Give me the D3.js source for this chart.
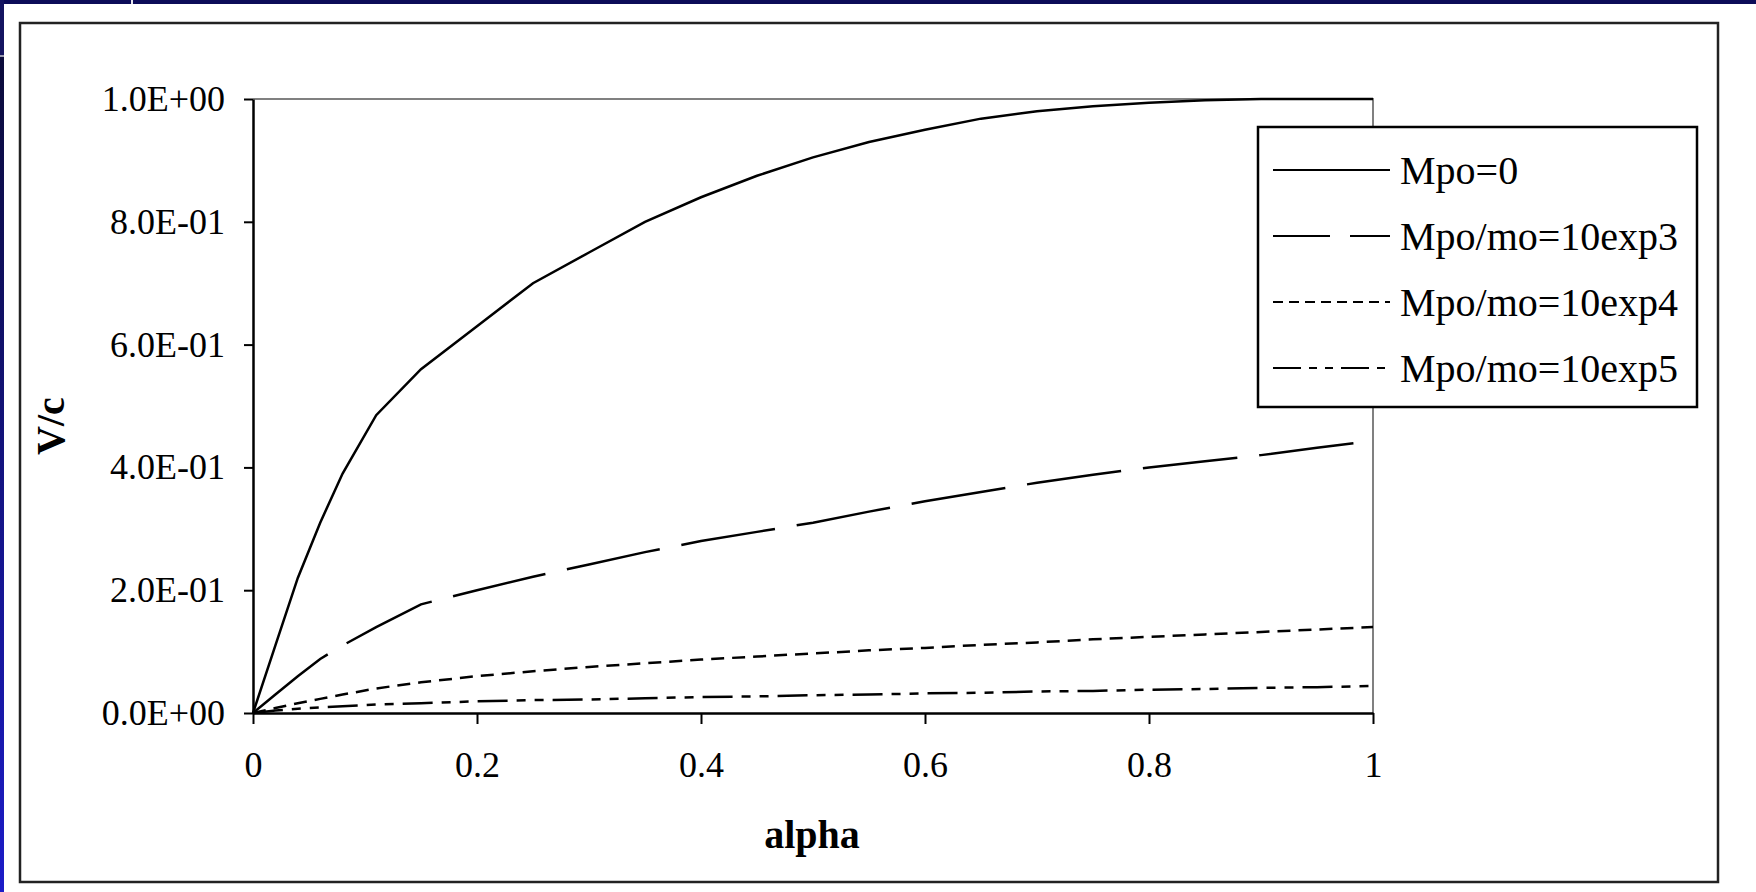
<!DOCTYPE html>
<html>
<head>
<meta charset="utf-8">
<script src="https://cdn.jsdelivr.net/npm/d3@7"></script>
<style>
  html, body { margin: 0; padding: 0; background: #ffffff; }
  svg { display: block; }
  text { font-family: "Liberation Serif", "Times New Roman", serif; fill: #000; }
</style>
</head>
<body>
<svg id="chart" width="1756" height="892"></svg>
<script>
// Sampled alpha values shared by all curves
const alpha = [0, 0.02, 0.04, 0.06, 0.08, 0.11, 0.15, 0.2, 0.25, 0.3, 0.35, 0.4, 0.45, 0.5,
               0.55, 0.6, 0.65, 0.7, 0.75, 0.8, 0.85, 0.9, 0.95, 1.0];

// V/c for each propellant mass ratio
const vMpo0 = [0, 0.11, 0.22, 0.31, 0.39, 0.485, 0.56, 0.63, 0.70, 0.75, 0.80, 0.84, 0.875, 0.905,
               0.93, 0.95, 0.968, 0.98, 0.988, 0.994, 0.998, 1.0, 1.0, 1.0];
const vExp3 = [0, 0.03, 0.06, 0.088, 0.11, 0.14, 0.177, 0.20, 0.222, 0.242, 0.262, 0.28, 0.295, 0.31,
               0.328, 0.345, 0.36, 0.375, 0.388, 0.40, 0.41, 0.42, 0.432, 0.443];
const vExp4 = [0, 0.008, 0.016, 0.023, 0.03, 0.04, 0.05, 0.06, 0.068, 0.075, 0.081, 0.087, 0.092, 0.097,
               0.102, 0.106, 0.111, 0.115, 0.12, 0.124, 0.128, 0.132, 0.136, 0.14];
const vExp5 = [0, 0.004, 0.007, 0.009, 0.011, 0.014, 0.016, 0.019, 0.021, 0.022, 0.024, 0.026, 0.027, 0.029,
               0.03, 0.032, 0.033, 0.035, 0.036, 0.038, 0.039, 0.041, 0.042, 0.044];

const seriesNames = ["Mpo=0", "Mpo/mo=10exp3", "Mpo/mo=10exp4", "Mpo/mo=10exp5"];
const seriesValues = [vMpo0, vExp3, vExp4, vExp5];

const xTicks = [0, 0.2, 0.4, 0.6, 0.8, 1];
const xTickLabels = ["0", "0.2", "0.4", "0.6", "0.8", "1"];
const yTicks = [0, 0.2, 0.4, 0.6, 0.8, 1.0];
const yTickLabels = ["0.0E+00", "2.0E-01", "4.0E-01", "6.0E-01", "8.0E-01", "1.0E+00"];

const xTitle = "alpha";
const yTitle = "V/c";

// Line styles per series: plot dash pattern and legend dash pattern
const dashPlot = [null, "95,22", "13,8", "30,9,9,9,9,9"];
const dashLegend = [null, "57,20", "10,6", "28,8,8,8,8,8"];

const svg = d3.select("#chart");
const W = 1756, H = 892;

// Slide background strips
svg.append("rect").attr("x", 0).attr("y", 0).attr("width", W).attr("height", H).attr("fill", "#ffffff");
svg.append("rect").attr("x", 0).attr("y", 0).attr("width", W).attr("height", 4).attr("fill", "#0c0c58");
const grad = svg.append("defs").append("linearGradient")
  .attr("id", "edge").attr("x1", 0).attr("y1", 0).attr("x2", 0).attr("y2", 1);
grad.append("stop").attr("offset", "0%").attr("stop-color", "#0a0a30");
grad.append("stop").attr("offset", "100%").attr("stop-color", "#1c1cc8");
svg.append("rect").attr("x", 0).attr("y", 0).attr("width", 4).attr("height", H).attr("fill", "url(#edge)");
svg.append("rect").attr("x", 0).attr("y", 0).attr("width", 4).attr("height", 55).attr("fill", "#141460");
svg.append("rect").attr("x", 0).attr("y", 55).attr("width", 4).attr("height", 2).attr("fill", "#9a9ab0");
svg.append("rect").attr("x", 131).attr("y", 0).attr("width", 2).attr("height", 4).attr("fill", "#e8e8f0");

// Chart frame
svg.append("rect").attr("x", 20).attr("y", 23).attr("width", 1698).attr("height", 859)
  .attr("fill", "#ffffff").attr("stroke", "#222").attr("stroke-width", 2.5);

const plot = { left: 253, right: 1373, top: 99, bottom: 713 };
const x = d3.scaleLinear().domain([0, 1]).range([plot.left, plot.right]);
const y = d3.scaleLinear().domain([0, 1]).range([plot.bottom, plot.top]);

// Top and right plot borders
svg.append("path")
  .attr("d", `M${plot.left},${plot.top}H${plot.right}V${plot.bottom}`)
  .attr("fill", "none").attr("stroke", "#808080").attr("stroke-width", 2);

// Axes
const xAxis = svg.append("g").attr("transform", `translate(0,${plot.bottom})`)
  .call(d3.axisBottom(x).tickValues(xTicks).tickFormat((d, i) => xTickLabels[i])
    .tickSize(11).tickSizeOuter(0).tickPadding(27));
const yAxis = svg.append("g").attr("transform", `translate(${plot.left},0)`)
  .call(d3.axisLeft(y).tickValues(yTicks).tickFormat((d, i) => yTickLabels[i])
    .tickSize(9).tickSizeOuter(0).tickPadding(19));
[xAxis, yAxis].forEach(g => {
  g.select(".domain").attr("stroke", "#000").attr("stroke-width", 2.5);
  g.selectAll(".tick line").attr("stroke", "#000").attr("stroke-width", 2);
  g.selectAll(".tick text").attr("font-family", "Liberation Serif, serif")
    .attr("font-size", 36).attr("fill", "#000");
});

// Axis titles
svg.append("text").attr("x", 812).attr("y", 834).attr("text-anchor", "middle")
  .attr("dominant-baseline", "central").attr("font-size", 40).attr("font-weight", "bold")
  .text(xTitle);
svg.append("text").attr("transform", "translate(50,426) rotate(-90)").attr("text-anchor", "middle")
  .attr("dominant-baseline", "central").attr("font-size", 40).attr("font-weight", "bold")
  .text(yTitle);

// Curves
const line = d3.line().x(d => x(d[0])).y(d => y(d[1]));
seriesValues.forEach((vals, i) => {
  const pts = alpha.map((a, k) => [a, vals[k]]);
  svg.append("path").datum(pts).attr("d", line)
    .attr("fill", "none").attr("stroke", "#000").attr("stroke-width", 2.5)
    .attr("stroke-dasharray", dashPlot[i]);
});

// Legend
const lg = svg.append("g");
lg.append("rect").attr("x", 1258).attr("y", 127).attr("width", 439).attr("height", 280)
  .attr("fill", "#fff").attr("stroke", "#000").attr("stroke-width", 2.5);
seriesNames.forEach((name, i) => {
  const cy = 170 + i * 66;
  lg.append("line").attr("x1", 1273).attr("x2", 1390).attr("y1", cy).attr("y2", cy)
    .attr("stroke", "#000").attr("stroke-width", 2).attr("stroke-dasharray", dashLegend[i]);
  lg.append("text").attr("x", 1400).attr("y", cy + 14).attr("font-size", 40).text(name);
});
</script>
</body>
</html>
